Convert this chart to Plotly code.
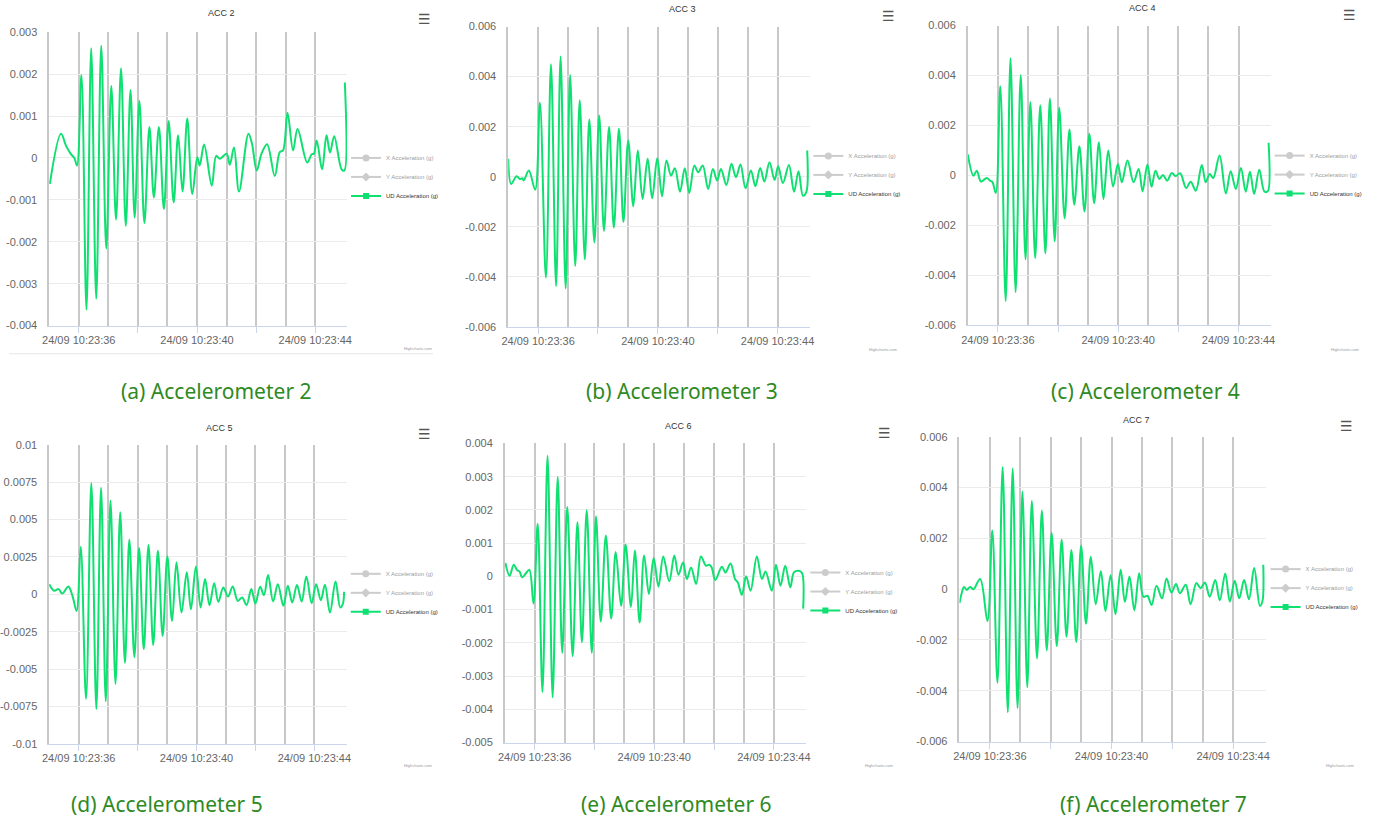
import plotly.graph_objects as go

W, H = 1375, 821
# The page is shown with an 8px body margin and the snapshot is reduced to the
# window size, so page positions are mapped back into figure coordinates.
BODY_MARGIN = 8
KX = W / (W + 2 * BODY_MARGIN)
KY = H / (H + 2 * BODY_MARGIN)

LINE_GREEN = "#10e072"
CAPTION_GREEN = "#2f8a1f"
GRID_V = "#c8c8c8"
GRID_H = "#ebebeb"
AXIS_LINE = "#ccd6eb"
LABEL_GRAY = "#666666"
FONT = "Liberation Sans, Arial, sans-serif"

# Time axis: seconds after 24/09 10:23:00
time_tickvals = [36, 38, 40, 42, 44]
time_ticktext = ["24/09 10:23:36", "", "24/09 10:23:40", "", "24/09 10:23:44"]
time_minor_grid = [35, 37, 39, 41, 43]

legend_names = ["X Acceleration (g)", "Y Acceleration (g)", "UD Acceleration (g)"]

# UD acceleration, values in units of 0.001 g
acc2_t = [35.02, 35.40, 35.57, 35.73, 35.85, 35.94, 36.09, 36.26, 36.42, 36.59,
          36.76, 36.93, 37.10, 37.26, 37.43, 37.59, 37.75, 37.89, 38.05, 38.22,
          38.39, 38.54, 38.71, 38.88, 39.04, 39.21, 39.36, 39.51, 39.67, 39.84,
          40.01, 40.09, 40.24, 40.50, 40.65, 40.77, 41.00, 41.11, 41.25, 41.42,
          41.74, 41.86, 42.02, 42.18, 42.37, 42.63, 42.80, 42.91, 43.06, 43.25,
          43.40, 43.73, 43.88, 43.95, 44.05, 44.23, 44.38, 44.50, 44.64, 44.89,
          44.98, 45.00]
acc2_v = [-0.62, 0.58, 0.29, 0.10, 0.00, -0.18, 1.98, -3.62, 2.62, -3.36,
          2.68, -2.16, 1.72, -1.47, 2.14, -1.62, 1.62, -1.42, 1.36, -1.55,
          0.74, -0.94, 0.74, -1.22, 0.88, -1.06, 0.54, -0.80, 0.94, -0.86,
          0.02, -0.18, 0.32, -0.66, 0.05, -0.02, 0.10, -0.16, 0.25, -0.80,
          0.58, 0.34, -0.30, 0.10, 0.33, -0.43, 0.14, 0.18, 1.08, 0.18,
          0.69, -0.11, 0.09, 0.10, 0.42, -0.27, 0.54, 0.13, 0.52, -0.27,
          -0.30, 1.80]

acc3_t = [35.00, 35.10, 35.28, 35.39, 35.47, 35.52, 35.69, 35.90, 36.06, 36.26,
          36.43, 36.60, 36.75, 36.92, 37.07, 37.24, 37.39, 37.56, 37.71, 37.88,
          38.04, 38.20, 38.37, 38.53, 38.70, 38.85, 39.01, 39.18, 39.33, 39.49,
          39.66, 39.81, 39.98, 40.14, 40.29, 40.44, 40.57, 40.74, 40.90, 41.05,
          41.22, 41.35, 41.50, 41.68, 41.84, 41.98, 42.11, 42.29, 42.46, 42.61,
          42.76, 42.93, 43.11, 43.26, 43.42, 43.56, 43.73, 43.90, 44.02, 44.18,
          44.38, 44.55, 44.70, 44.85, 44.96, 44.99]
acc3_v = [0.72, -0.29, 0.02, -0.09, -0.06, -0.15, 0.25, -0.52, 2.96, -4.03,
          4.49, -4.37, 4.80, -4.47, 4.06, -3.57, 3.06, -3.30, 2.29, -2.63,
          2.45, -2.16, 1.99, -2.03, 1.92, -1.80, 1.45, -1.18, 1.05, -0.89,
          0.72, -0.86, 0.74, -0.78, 0.65, 0.05, 0.34, -0.60, 0.34, -0.65,
          0.45, 0.18, 0.45, -0.49, 0.31, -0.15, 0.31, -0.33, 0.52, -0.02,
          0.49, -0.46, 0.25, -0.38, 0.35, -0.19, 0.58, -0.13, 0.42, -0.25,
          0.47, -0.60, 0.22, -0.76, -0.62, 1.05]

acc4_t = [35.00, 35.19, 35.30, 35.44, 35.63, 35.74, 35.82, 35.93, 36.08, 36.26,
          36.42, 36.59, 36.76, 36.92, 37.08, 37.24, 37.41, 37.58, 37.73, 37.89,
          38.04, 38.22, 38.38, 38.54, 38.71, 38.88, 39.04, 39.20, 39.36, 39.51,
          39.67, 39.83, 39.99, 40.12, 40.31, 40.51, 40.68, 40.81, 40.97, 41.11,
          41.24, 41.37, 41.49, 41.63, 41.78, 41.91, 42.06, 42.26, 42.41, 42.58,
          42.78, 42.91, 43.04, 43.16, 43.37, 43.58, 43.74, 43.91, 44.08, 44.24,
          44.38, 44.52, 44.69, 44.86, 44.97, 45.00]
acc4_v = [0.84, -0.01, 0.19, -0.25, -0.10, -0.21, -0.27, -0.70, 3.57, -5.03,
          4.69, -4.67, 4.02, -3.36, 2.94, -3.31, 2.81, -3.12, 3.08, -2.64,
          2.71, -1.72, 1.84, -1.17, 1.17, -1.44, 1.67, -1.11, 1.33, -0.95,
          1.00, -0.44, 0.46, -0.27, 0.60, -0.27, 0.26, -0.64, 0.44, -0.45,
          0.19, -0.14, 0.02, -0.21, 0.10, -0.03, 0.09, -0.50, -0.25, -0.61,
          0.42, -0.27, 0.06, -0.10, 0.80, -0.72, 0.17, -0.54, 0.30, -0.65,
          0.15, -0.74, 0.23, -0.64, -0.64, 1.31]

acc5_t = [35.00, 35.17, 35.32, 35.43, 35.49, 35.65, 35.79, 35.93, 36.07, 36.25,
          36.43, 36.60, 36.76, 36.92, 37.08, 37.25, 37.41, 37.57, 37.72, 37.89,
          38.05, 38.21, 38.37, 38.53, 38.69, 38.85, 39.01, 39.17, 39.32, 39.49,
          39.67, 39.81, 39.98, 40.14, 40.29, 40.44, 40.60, 40.74, 40.91, 41.07,
          41.23, 41.40, 41.55, 41.70, 41.86, 42.00, 42.16, 42.29, 42.43, 42.60,
          42.76, 42.95, 43.10, 43.25, 43.41, 43.57, 43.73, 43.91, 44.06, 44.22,
          44.36, 44.53, 44.72, 44.88, 44.97, 45.01]
acc5_v = [0.68, 0.24, 0.35, 0.06, 0.12, 0.53, -0.10, -1.11, 3.19, -6.98,
          7.45, -7.67, 7.13, -7.16, 6.28, -5.99, 5.50, -4.58, 3.66, -4.20,
          3.10, -3.66, 3.30, -3.39, 2.92, -2.79, 2.54, -1.78, 2.14, -1.22,
          1.47, -1.00, 1.87, -0.88, 1.02, -0.73, 0.75, -0.50, 0.46, -0.15,
          0.53, -0.44, -0.21, -0.71, 0.35, -0.62, 0.50, -0.06, 1.29, -0.48,
          0.68, -0.77, 0.57, -0.55, 0.62, -0.48, 1.20, -0.59, 0.68, -0.39,
          0.64, -1.22, 0.86, -0.88, -0.62, 0.17]

acc6_t = [35.02, 35.16, 35.30, 35.41, 35.49, 35.58, 35.69, 35.82, 35.96, 36.10,
          36.26, 36.43, 36.60, 36.77, 36.92, 37.09, 37.27, 37.43, 37.58, 37.74,
          37.91, 38.05, 38.21, 38.38, 38.56, 38.71, 38.89, 39.04, 39.22, 39.35,
          39.51, 39.66, 39.82, 39.98, 40.14, 40.30, 40.50, 40.67, 40.81, 40.96,
          41.09, 41.23, 41.40, 41.56, 41.73, 41.84, 41.92, 42.04, 42.26, 42.38,
          42.55, 42.70, 42.79, 42.93, 43.07, 43.22, 43.43, 43.60, 43.72, 43.93,
          44.07, 44.22, 44.38, 44.55, 44.67, 44.83, 44.94, 44.98]
acc6_v = [0.40, 0.02, 0.35, 0.19, 0.15, -0.03, 0.07, 0.20, -0.82, 1.58,
          -3.48, 3.63, -3.64, 2.99, -2.30, 2.09, -2.40, 1.63, -1.98, 1.99,
          -2.30, 1.80, -1.36, 1.23, -1.27, 0.73, -0.89, 0.96, -0.92, 0.78,
          -1.39, 0.63, -0.53, 0.55, -0.31, 0.60, -0.15, 0.63, 0.05, 0.42,
          -0.08, 0.27, -0.23, 0.60, 0.32, 0.35, 0.27, -0.11, 0.29, 0.12,
          0.39, -0.08, -0.18, -0.56, 0.00, -0.43, 0.60, -0.08, 0.15, -0.43,
          0.35, -0.28, 0.32, -0.33, 0.12, 0.17, 0.10, -0.97]

acc7_t = [35.00, 35.08, 35.15, 35.24, 35.35, 35.46, 35.68, 35.92, 36.08, 36.25,
          36.42, 36.59, 36.75, 36.91, 37.07, 37.23, 37.38, 37.55, 37.71, 37.87,
          38.03, 38.20, 38.36, 38.52, 38.68, 38.84, 39.00, 39.16, 39.32, 39.48,
          39.65, 39.80, 39.97, 40.13, 40.30, 40.44, 40.59, 40.75, 40.91, 41.05,
          41.18, 41.32, 41.48, 41.66, 41.81, 41.97, 42.12, 42.25, 42.44, 42.60,
          42.79, 42.93, 43.07, 43.23, 43.41, 43.56, 43.74, 43.89, 44.05, 44.20,
          44.36, 44.52, 44.69, 44.88, 44.96, 44.99]
acc7_v = [-0.55, -0.13, 0.09, -0.03, 0.09, 0.00, 0.40, -1.25, 2.31, -3.69,
          4.81, -4.85, 4.75, -4.68, 3.85, -3.86, 3.47, -2.73, 3.10, -2.41,
          2.22, -2.24, 1.95, -1.87, 1.54, -2.08, 1.71, -1.36, 1.28, -0.59,
          0.71, -0.86, 0.55, -0.99, 0.76, -0.50, 0.50, -0.83, 0.63, -0.30,
          -0.26, -0.62, 0.13, -0.36, 0.42, -0.13, 0.20, -0.16, 0.17, -0.59,
          0.24, 0.04, 0.26, -0.30, 0.36, -0.44, 0.62, -0.49, 0.33, -0.36,
          0.36, -0.40, 0.83, -0.66, -0.49, 0.96]

# y-axis ticks (in 0.001 g): start, stop, step
acc2_yticks = (-4.0, 3.0, 1.0)
acc3_yticks = (-6.0, 6.0, 2.0)
acc4_yticks = (-6.0, 6.0, 2.0)
acc5_yticks = (-10.0, 10.0, 2.5)
acc6_yticks = (-5.0, 4.0, 1.0)
acc7_yticks = (-6.0, 6.0, 2.0)

# Page layout of each chart, in window pixels
panels = [
    dict(title="ACC 2", caption="(a) Accelerometer 2", t=acc2_t, v=acc2_v, yticks=acc2_yticks,
         box=(50, 347, 34, 326), xmax=45.075, title_xy=(222, 15), menu_xy=(424, 21),
         legend_xy=(367, 178), credit_xy=(418, 349), caption_xy=(217, 391)),
    dict(title="ACC 3", caption="(b) Accelerometer 3", t=acc3_t, v=acc3_v, yticks=acc3_yticks,
         box=(507.7, 808.3, 28.3, 327.3), xmax=45.072, title_xy=(681.7, 11), menu_xy=(886.5, 17.5),
         legend_xy=(828, 176), credit_xy=(881, 350), caption_xy=(681, 391)),
    dict(title="ACC 4", caption="(c) Accelerometer 4", t=acc4_t, v=acc4_v, yticks=acc4_yticks,
         box=(966, 1268.3, 27.3, 325.7), xmax=45.078, title_xy=(1140.7, 10), menu_xy=(1346.5, 16.5),
         legend_xy=(1288, 175.7), credit_xy=(1341.7, 350), caption_xy=(1143.5, 391)),
    dict(title="ACC 5", caption="(d) Accelerometer 5", t=acc5_t, v=acc5_v, yticks=acc5_yticks,
         box=(50, 346.7, 444.7, 742.3), xmax=45.10, title_xy=(220, 427.7), menu_xy=(424.3, 434.3),
         legend_xy=(366.7, 592), credit_xy=(418, 764), caption_xy=(167, 802)),
    dict(title="ACC 6", caption="(e) Accelerometer 6", t=acc6_t, v=acc6_v, yticks=acc6_yticks,
         box=(504.3, 805, 443.3, 741), xmax=45.085, title_xy=(677.7, 425.7), menu_xy=(883.3, 432.7),
         legend_xy=(825, 590.7), credit_xy=(877, 764), caption_xy=(676, 802)),
    dict(title="ACC 7", caption="(f) Accelerometer 7", t=acc7_t, v=acc7_v, yticks=acc7_yticks,
         box=(957.7, 1263.3, 436.7, 740), xmax=45.077, title_xy=(1134.3, 420), menu_xy=(1343.3, 426),
         legend_xy=(1284, 587.3), credit_xy=(1336.7, 764), caption_xy=(1151, 802)),
]


def fx(px):
    return (px / KX - BODY_MARGIN) / W


def fy(py):
    return 1 - (py / KY - BODY_MARGIN) / H


def tick_label(val):
    g = round(val * 1e-3, 6) + 0.0
    return f"{g:g}"


fig = go.Figure()
layout = dict(
    width=W, height=H,
    margin=dict(l=0, r=0, t=0, b=0),
    paper_bgcolor="white", plot_bgcolor="white",
    showlegend=True,
    annotations=[], shapes=[],
)

for i, p in enumerate(panels, start=1):
    xa = "x" if i == 1 else f"x{i}"
    ya = "y" if i == 1 else f"y{i}"
    xkey = "xaxis" if i == 1 else f"xaxis{i}"
    ykey = "yaxis" if i == 1 else f"yaxis{i}"
    lkey = "legend" if i == 1 else f"legend{i}"

    fig.add_trace(go.Scatter(
        x=p["t"], y=[v * 1e-3 for v in p["v"]],
        mode="lines", line=dict(color=LINE_GREEN, width=2, shape="spline", smoothing=1.0),
        xaxis=xa, yaxis=ya, showlegend=False, hoverinfo="skip",
    ))
    # legend entries: X and Y series are switched off, UD is shown
    for name, sym, col, vis, msize in [
        (legend_names[0], "circle", "#9a9a9a", "legendonly", 7),
        (legend_names[1], "diamond", "#9a9a9a", "legendonly", 7),
        (legend_names[2], "square", LINE_GREEN, True, 6),
    ]:
        fig.add_trace(go.Scatter(
            x=[None], y=[None], mode="lines+markers", name=name, visible=vis,
            line=dict(color=col, width=2), marker=dict(symbol=sym, size=msize, color=col),
            xaxis=xa, yaxis=ya, legend=lkey, legendgroup=f"{i}-{name}",
        ))

    x0, x1, ytop, ybot = p["box"]
    ys, ye, st = p["yticks"]
    n = int(round((ye - ys) / st))
    yvals = [ys + k * st for k in range(n + 1)]

    layout[xkey] = dict(
        domain=[fx(x0), fx(x1)], anchor=ya, range=[35, p["xmax"]],
        tickmode="array", tickvals=time_tickvals, ticktext=time_ticktext,
        ticks="outside", ticklen=6, tickcolor=AXIS_LINE, tickwidth=1,
        showgrid=True, gridcolor=GRID_V, gridwidth=1.5,
        minor=dict(tickmode="array", tickvals=time_minor_grid, showgrid=True,
                   gridcolor=GRID_V, gridwidth=1.5, ticks=""),
        showline=True, linecolor=AXIS_LINE, linewidth=1, zeroline=False,
        tickfont=dict(family=FONT, size=11, color=LABEL_GRAY),
        ticklabelstandoff=-2, fixedrange=True,
    )
    layout[ykey] = dict(
        domain=[fy(ybot), fy(ytop)], anchor=xa, range=[ys * 1e-3, ye * 1e-3],
        tickmode="array", tickvals=[v * 1e-3 for v in yvals],
        ticktext=[tick_label(v) for v in yvals],
        ticks="", showgrid=True, gridcolor=GRID_H, gridwidth=1,
        zeroline=False, showline=True, linecolor=GRID_V, linewidth=1.5,
        tickfont=dict(family=FONT, size=11, color=LABEL_GRAY),
        ticklabelstandoff=8, fixedrange=True,
    )
    lx, ly = p["legend_xy"]
    layout[lkey] = dict(
        x=fx(lx - 21), y=fy(ly), xanchor="left", yanchor="middle",
        font=dict(family=FONT, size=6, color="#333333"),
        bgcolor="rgba(0,0,0,0)", tracegroupgap=3, itemwidth=30,
        traceorder="normal", itemclick=False, itemdoubleclick=False,
    )

    tx, ty = p["title_xy"]
    layout["annotations"].append(dict(
        x=fx(tx), y=fy(ty), xref="paper", yref="paper", text=p["title"], showarrow=False,
        xanchor="center", yanchor="middle", font=dict(family=FONT, size=9, color="#333333")))
    mx, my = p["menu_xy"]
    layout["annotations"].append(dict(
        x=fx(mx), y=fy(my), xref="paper", yref="paper", text="<b>☰</b>", showarrow=False,
        xanchor="center", yanchor="middle", font=dict(family="DejaVu Sans", size=14, color="#555555")))
    cx, cy = p["credit_xy"]
    layout["annotations"].append(dict(
        x=fx(cx), y=fy(cy), xref="paper", yref="paper", text="Highcharts.com", showarrow=False,
        xanchor="center", yanchor="middle", font=dict(family=FONT, size=4, color="#999999")))
    px_, py_ = p["caption_xy"]
    layout["annotations"].append(dict(
        x=fx(px_), y=fy(py_), xref="paper", yref="paper", text=p["caption"], showarrow=False,
        xanchor="center", yanchor="middle", font=dict(family="Noto Sans", size=21, color=CAPTION_GREEN)))

# thin frame rule under the first chart
layout["shapes"].append(dict(type="line", xref="paper", yref="paper",
                             x0=fx(10), x1=fx(433), y0=fy(354), y1=fy(354),
                             line=dict(color="#e6e6e6", width=1)))

fig.update_layout(**layout)
fig.write_html("out.html")
